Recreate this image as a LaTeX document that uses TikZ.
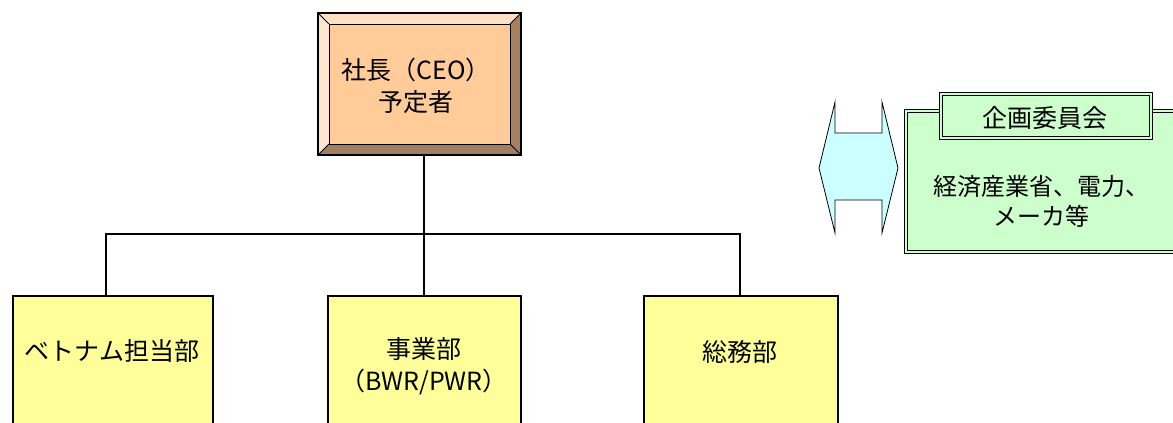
\documentclass[tikz,border=0pt]{standalone}
\usepackage{fontspec}
\setmainfont{Noto Sans CJK JP}
\begin{document}
\begin{tikzpicture}[x=1pt,y=-1pt,
  txt/.style={font=\fontsize{25}{32}\selectfont, align=center, inner sep=0pt},
  yellowbox/.style={draw=black, line width=2pt, fill=boxyellow, minimum width=200pt, minimum height=170pt, anchor=north west, inner sep=0pt},
  conn/.style={draw=black, line width=2pt},
  dbl/.style={draw=black, line width=1.3pt, double=boxgreen, double distance=2.2pt}
]
\definecolor{boxyellow}{HTML}{FFFF99}
\definecolor{boxgreen}{HTML}{CCFFCC}
\definecolor{peach}{HTML}{FFCC99}
\definecolor{bevtop}{HTML}{FFE0C2}
\definecolor{bevleft}{HTML}{FFE6CC}
\definecolor{bevright}{HTML}{A68060}
\definecolor{bevbot}{HTML}{A08060}
\definecolor{arrowcyan}{HTML}{CCFFFF}
\useasboundingbox (0,0) rectangle (1173,423);
\clip (0,0) rectangle (1173,423);
\fill[white] (0,0) rectangle (1173,423);

% CEO bevel box
\coordinate (o1) at (318,13);
\coordinate (o2) at (521,13);
\coordinate (o3) at (521,155);
\coordinate (o4) at (318,155);
\coordinate (i1) at (329,24);
\coordinate (i2) at (510,24);
\coordinate (i3) at (510,144);
\coordinate (i4) at (329,144);
\fill[bevtop] (o1) -- (o2) -- (i2) -- (i1) -- cycle;
\fill[bevright] (o2) -- (o3) -- (i3) -- (i2) -- cycle;
\fill[bevbot] (o3) -- (o4) -- (i4) -- (i3) -- cycle;
\fill[bevleft] (o4) -- (o1) -- (i1) -- (i4) -- cycle;
\fill[peach] (i1) rectangle (i3);
\draw[line width=0.8pt] (o1) -- (i1) (o2) -- (i2) (o3) -- (i3) (o4) -- (i4);
\draw[line width=0.8pt] (i1) rectangle (i3);
\node[draw=black, line width=2pt, minimum width=203pt, minimum height=142pt, inner sep=0pt] (ceo) at (419.5,84) {};
\node[txt] (ceotext) at (416,86) {社長（CEO）\\予定者};

% bottom boxes
\node[yellowbox] (viet) at (12,295) {};
\node[yellowbox, minimum width=193pt] (jigyo) at (327,295) {};
\node[yellowbox, minimum width=194pt] (somu) at (643,295) {};
\node[txt] (viettext) at (112,351) {ベトナム担当部};
\node[txt] (jigyotext) at (424,366) {事業部\\（BWR/PWR）};
\node[txt] (somutext) at (740,352) {総務部};

% connectors
\coordinate (bar) at (424,234);
\draw[conn] (ceo.south -| bar) -- (bar);
\draw[conn] (viet.north -| 106,0) |- (bar) -| (somu.north -| 740,0);
\draw[conn] (bar) -- (jigyo.north -| bar);

% double arrow
\draw[fill=arrowcyan, draw=black, line width=0.8pt]
  (835,102) -- (835,133) -- (882,133) -- (882,102) -- (898,168) -- (882,233)
  -- (882,200) -- (835,200) -- (835,233) -- (819,168) -- cycle;

% committee box
\draw[dbl, fill=boxgreen] (906,111) rectangle (1200,252);
\node[dbl, fill=boxgreen, minimum width=210pt, minimum height=44pt, inner sep=0pt] (title) at (1046,116) {};
\node[txt] (titletext) at (1045,118) {企画委員会};
\node[txt, font=\fontsize{24}{30}\selectfont] (comtext) at (1041,201) {経済産業省、電力、\\メーカ等};
\end{tikzpicture}
\end{document}
